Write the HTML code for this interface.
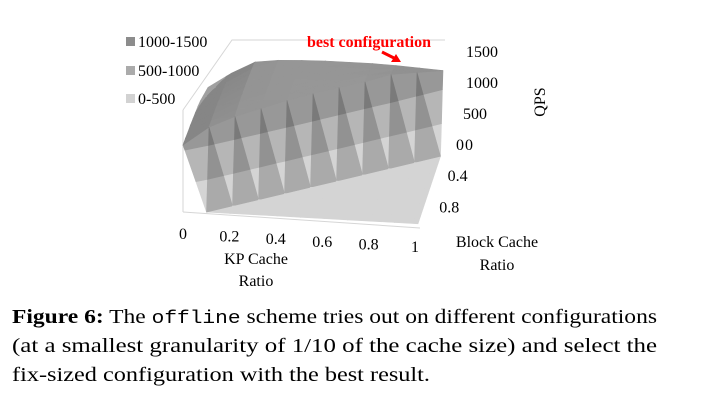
<!DOCTYPE html>
<html><head><meta charset="utf-8"><style>
html,body{margin:0;padding:0;background:#fff;width:701px;height:404px;overflow:hidden}
svg text{font-family:"Liberation Serif",serif}
</style></head><body>
<svg id="chart" width="701" height="404" viewBox="0 0 701 404" xmlns="http://www.w3.org/2000/svg">
<g id="walls" stroke="#d6d6d6" stroke-width="1" fill="none">
<polyline points="183,110 232,40 445,40"/>
<line x1="183" y1="110" x2="183" y2="212"/>
<line x1="183" y1="212" x2="420" y2="228"/>
</g>
<g id="surface"></g>
<g id="legend" font-size="16">
<rect x="126" y="37" width="9" height="9" fill="#8c8c8c"/>
<text x="138" y="47">1000-1500</text>
<rect x="126" y="66" width="9" height="9" fill="#ababab"/>
<text x="138" y="76">500-1000</text>
<rect x="126" y="94" width="9" height="9" fill="#d2d2d2"/>
<text x="138" y="104">0-500</text>
</g>
<text x="307" y="47" font-size="16" font-weight="bold" fill="#ff0000">best configuration</text>
<line x1="382" y1="52" x2="396" y2="59" stroke="#ff0000" stroke-width="3"/>
<polygon points="401,62 391,62 396,54" fill="#ff0000"/>
<g id="zticks" font-size="16"></g>
<text x="545" y="102" font-size="16" text-anchor="middle" transform="rotate(-90 545 102)">QPS</text>
<g id="yticks" font-size="16"></g>
<g id="xticks" font-size="16"></g>
<text x="256" y="264" font-size="16" text-anchor="middle">KP Cache</text>
<text x="256" y="286" font-size="16" text-anchor="middle">Ratio</text>
<text x="497" y="247" font-size="16" text-anchor="middle">Block Cache</text>
<text x="497" y="270" font-size="16" text-anchor="middle">Ratio</text>
<g font-size="20">
<text x="12" y="323" textLength="645" lengthAdjust="spacingAndGlyphs"><tspan font-weight="bold">Figure 6:</tspan> The <tspan font-family="Liberation Mono, monospace" font-size="18">offline</tspan> scheme tries out on different configurations</text>
<text x="12" y="352" textLength="645" lengthAdjust="spacingAndGlyphs">(at a smallest granularity of 1/10 of the cache size) and select the</text>
<text x="12" y="381" textLength="418" lengthAdjust="spacingAndGlyphs">fix-sized configuration with the best result.</text>
</g>
</svg>
<script>
// Data: QPS by KP cache ratio (rows, 0..1) and block cache ratio (cols, 0..1)
const kpRatios = [0,0.1,0.2,0.3,0.4,0.5,0.6,0.7,0.8,0.9,1];
const blockRatios = [0,0.1,0.2,0.3,0.4,0.5,0.6,0.7,0.8,0.9,1];
const qps0  = [800,850,900,950,980,1000,1020,1040,1050,1070,1080];
const qps1  = [1050,1100,1150,1180,1200,1220,1240,1250,1260,1270,20];
const qps2  = [1250,1280,1300,1320,1330,1340,1350,1350,1340,20,20];
const qps3  = [1300,1320,1340,1360,1370,1380,1380,1370,20,20,20];
const qps4  = [1320,1340,1360,1380,1390,1400,1400,20,20,20,20];
const qps5  = [1330,1350,1370,1390,1400,1410,20,20,20,20,20];
const qps6  = [1330,1360,1380,1400,1410,20,20,20,20,20,20];
const qps7  = [1330,1360,1390,1400,20,20,20,20,20,20,20];
const qps8  = [1320,1370,1420,20,20,20,20,20,20,20,20];
const qps9  = [1300,1350,20,20,20,20,20,20,20,20,20];
const qps10 = [1280,20,20,20,20,20,20,20,20,20,20];
const qpsRows = [qps0,qps1,qps2,qps3,qps4,qps5,qps6,qps7,qps8,qps9,qps10];
const zTicks = ["0","500","1000","1500"];
const zTickValues = [0,500,1000,1500];
const xTickLabels = ["0","0.2","0.4","0.6","0.8","1"];
const xTickValues = [0,0.2,0.4,0.6,0.8,1];
const yTickLabels = ["0","0.4","0.8"];
const yTickValues = [0,0.4,0.8];
const bands = [[0,500,212],[500,1000,182],[1000,1500,152]];

function proj(kp, blk, q){
  const back = 1 - blk;
  return [183 + kp*235 + back*25, 212 + kp*13 - back*75 - q*0.062];
}
function clip(poly, val, keepAbove){
  const out=[];
  for(let k=0;k<poly.length;k++){
    const a=poly[k], b=poly[(k+1)%poly.length];
    const ina = keepAbove ? a[2]>=val : a[2]<=val;
    const inb = keepAbove ? b[2]>=val : b[2]<=val;
    if(ina) out.push(a);
    if(ina!==inb){
      const t=(val-a[2])/(b[2]-a[2]);
      out.push([a[0]+t*(b[0]-a[0]), a[1]+t*(b[1]-a[1]), val]);
    }
  }
  return out;
}
const NS='http://www.w3.org/2000/svg';
const surf=document.getElementById('surface');
function drawTri(tri, isFirst){
  const qs=tri.map(v=>v[2]);
  const steep=(Math.max(...qs)-Math.min(...qs))>500;
  let f=1;
  if(steep && isFirst) f=0.8;
  else if(!steep){ const slope=(Math.max(...qs)-Math.min(...qs)); f=1-Math.min(0.12,slope/1500); }
  for(const [lo,hi,g] of bands){
    let p=clip(tri,lo,true); if(p.length<3) continue;
    p=clip(p,hi,false); if(p.length<3) continue;
    const pts=p.map(v=>proj(v[0],v[1],v[2]).map(n=>n.toFixed(1)).join(',')).join(' ');
    const c=Math.max(95,Math.min(235,Math.round(g*f)));
    const col='rgb('+c+','+c+','+c+')';
    const el=document.createElementNS(NS,'polygon');
    el.setAttribute('points',pts);
    el.setAttribute('fill',col);
    el.setAttribute('stroke',col);
    el.setAttribute('stroke-width','0.6');
    
    
    surf.appendChild(el);
  }
}
for(let j=0;j<blockRatios.length-1;j++){
  for(let i=0;i<kpRatios.length-1;i++){
    const A=[kpRatios[i],blockRatios[j],qpsRows[i][j]];
    const B=[kpRatios[i+1],blockRatios[j],qpsRows[i+1][j]];
    const C=[kpRatios[i+1],blockRatios[j+1],qpsRows[i+1][j+1]];
    const D=[kpRatios[i],blockRatios[j+1],qpsRows[i][j+1]];
    drawTri([B,C,D], false); drawTri([A,B,D], true);
  }
}
const zt=document.getElementById('zticks');
const zx=[455,463,466,466];
zTicks.forEach((t,k)=>{
  const el=document.createElementNS(NS,'text');
  const y=150 - zTickValues[k]*0.062;
  el.setAttribute('x', k===0?465:zx[k]);
  el.setAttribute('y', y.toFixed(1));
  el.textContent=t;
  
  
  zt.appendChild(el);
});
const yt=document.getElementById('yticks');
yTickLabels.forEach((t,k)=>{
  const b=yTickValues[k];
  const el=document.createElementNS(NS,'text');
  el.setAttribute('x', (456 - b*21).toFixed(1));
  el.setAttribute('y', (150 + b*78).toFixed(1));
  el.textContent=t;
  
  
  yt.appendChild(el);
});
const xt=document.getElementById('xticks');
xTickLabels.forEach((t,k)=>{
  const v=xTickValues[k];
  const el=document.createElementNS(NS,'text');
  el.setAttribute('x', (183 + v*232).toFixed(1));
  el.setAttribute('y', (239 + v*13).toFixed(1));
  el.setAttribute('text-anchor','middle');
  el.textContent=t;
  
  
  xt.appendChild(el);
});
</script>
</body></html>
